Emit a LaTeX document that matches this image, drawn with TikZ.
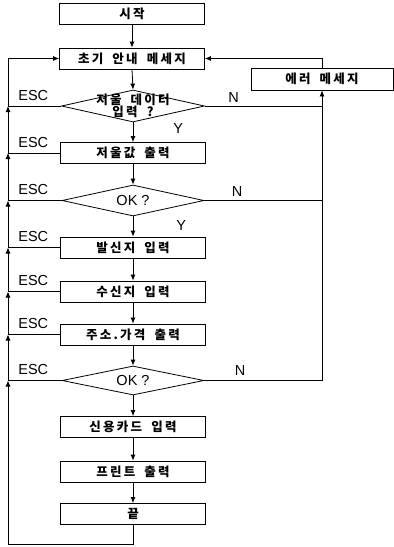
\documentclass[tikz,border=0pt]{standalone}
\usepackage{fontspec}
\setmainfont{Liberation Sans}
\newfontfamily\kr{Noto Sans CJK KR}[LetterSpace=18,WordSpace=1.8]
\usetikzlibrary{arrows.meta,shapes.geometric,positioning}

\begin{document}
\begin{tikzpicture}[x=1pt,y=-1pt,>={Latex[length=6pt,width=5pt]},line width=0.8pt,
 box/.style={draw,minimum width=145pt,minimum height=21pt,inner sep=0pt,font=\fontsize{12.5}{13}\selectfont\kr\bfseries},
 dia/.style={draw,diamond,minimum width=142pt,minimum height=31pt,inner sep=0pt},
 kor/.style={font=\fontsize{12.5}{12.5}\selectfont\kr\bfseries,align=center,inner sep=0pt},
 txt/.style={font=\fontsize{14.5}{16}\selectfont,inner sep=1pt}]
 \useasboundingbox (0,0) rectangle (394,547);
 % main column
 \node[box] (start) at (132,14) {시작};
 \node[box] (init) at (132,58.5) {초기 안내 메세지};
 \node[box,minimum width=142pt,minimum height=22pt] (err) at (322,79) {에러 메세지};
 \node[dia,minimum width=143pt,minimum height=32pt] (d1) at (133,106) {};
 \node[kor] (d1t) at (d1) {저울 데이터\\입력 ?};
 \node[box] (scale) at (133,153) {저울값 출력};
 \node[dia] (ok1) at (133,200.5) {}; \node[txt] (ok1t) at (ok1) {OK ?};
 \node[box] (from) at (133,247.5) {발신지 입력};
 \node[box] (to) at (133,291.5) {수신지 입력};
 \node[box] (addr) at (133,334.5) {주소.가격 출력};
 \node[dia,minimum height=29pt] (ok2) at (133,380.5) {}; \node[txt] (ok2t) at (ok2) {OK ?};
 \node[box] (card) at (133,427) {신용카드 입력};
 \node[box] (print) at (133,471.5) {프린트 출력};
 \node[box] (end) at (133,514) {끝};
 \foreach \a/\b in {start/init,init/d1,d1/scale,scale/ok1,ok1/from,from/to,to/addr,addr/ok2,ok2/card,card/print,print/end}
  \draw[->] (\a.south) -- (\b.north);
 % ESC return line on the left
 \coordinate (lx) at (8,544);
 \draw (end.south) |- (lx);
 \foreach \n in {d1,scale,ok1,from,to,addr,ok2} {
  \coordinate (j\n) at (\n.west -| lx);
  \draw (\n.west) -- (j\n);
  \node[txt,above right=4pt and 9pt of j\n] (esc\n) {ESC};
 }
 \draw[->] (lx) -- (jok2);
 \foreach \a/\b in {ok2/addr,addr/to,to/from,from/ok1,ok1/scale,scale/d1} \draw[->] (j\a) -- (j\b);
 \draw[->] (jd1) |- (init.west);
 % N branches to the error message
 \draw (d1.east) -- (d1.east -| err.south);
 \draw (ok1.east) -- (ok1.east -| err.south);
 \draw[->] (ok2.east) -| (err.south);
 \draw[->] (err.north) |- (init.east);
 \node[txt,above right=2pt and 22pt of d1.east] (n1) {N};
 \node[txt,above right=3pt and 26pt of ok1.east] (n2) {N};
 \node[txt,above right=4pt and 29pt of ok2.east] (n3) {N};
 \node[txt,below right=0pt and 39pt of d1.south] (y1) {Y};
 \node[txt,below right=3pt and 42pt of ok1.south] (y2) {Y};
\end{tikzpicture}
\end{document}
